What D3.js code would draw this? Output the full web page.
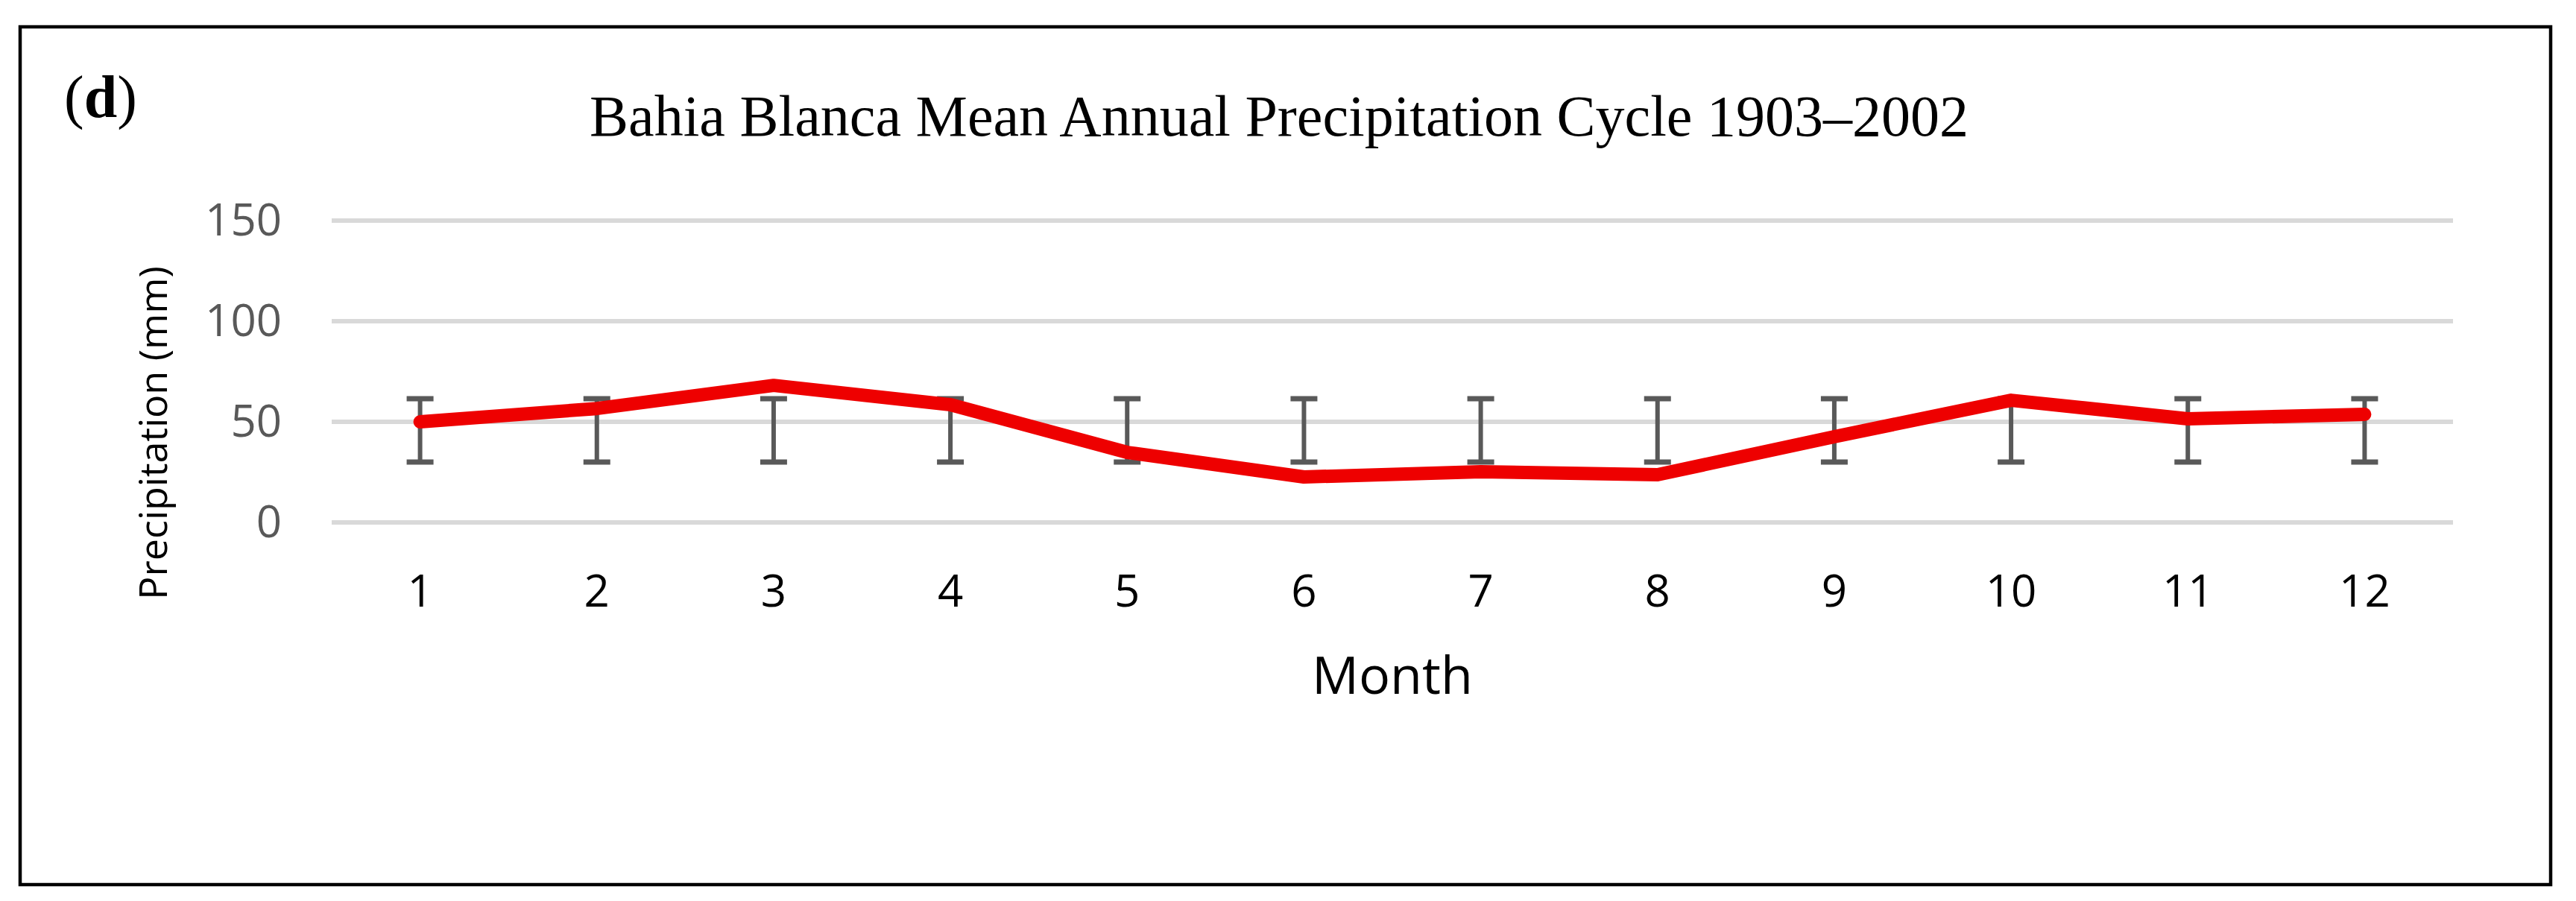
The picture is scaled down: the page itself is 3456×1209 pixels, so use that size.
<!DOCTYPE html>
<html>
<head>
<meta charset="utf-8">
<script src="https://cdn.jsdelivr.net/npm/d3@7"></script>
<style>
  html, body { margin: 0; padding: 0; background: #fff; }
  svg { display: block; }
</style>
</head>
<body>
<svg width="3456" height="1209"></svg>
<script>
// values
var months = [1, 2, 3, 4, 5, 6, 7, 8, 9, 10, 11, 12];
var precip = [50.0, 56.6, 68.1, 58.5, 34.8, 22.6, 25.2, 23.7, 42.6, 60.7, 51.5, 53.7];
var errLow = [30, 30, 30, 30, 30, 30, 30, 30, 30, 30, 30, 30];
var errHigh = [61.5, 61.5, 61.5, 61.5, 61.5, 61.5, 61.5, 61.5, 61.5, 61.5, 61.5, 61.5];
var yTicks = [0, 50, 100, 150];

var titleText = 'Bahia Blanca Mean Annual Precipitation Cycle 1903\u20132002';
var xTitle = 'Month';
var yTitle = 'Precipitation (mm)';

var svg = d3.select('svg');
var W = 3456, H = 1209;

// plot area
var plot = { left: 445, right: 3291, top: 296, bottom: 701 };

var x = d3.scaleBand().domain(months).range([plot.left, plot.right]);
var y = d3.scaleLinear().domain([0, 150]).range([plot.bottom, plot.top]);
var cx = function (m) { return x(m) + x.bandwidth() / 2; };

svg.append('rect').attr('width', W).attr('height', H).attr('fill', '#fff');

// outer frame
svg.append('rect')
  .attr('x', 27).attr('y', 36)
  .attr('width', 3422 - 27).attr('height', 1187 - 36)
  .attr('fill', 'none').attr('stroke', '#000').attr('stroke-width', 4.5);

// y tick labels
var yAxis = d3.axisLeft(y).tickValues(yTicks).tickSize(0).tickPadding(67);
var gy = svg.append('g').attr('transform', 'translate(' + plot.left + ',0)').call(yAxis);
gy.select('.domain').remove();
gy.selectAll('text')
  .attr('font-family', '"Open Sans", "Noto Sans", sans-serif')
  .attr('font-size', 60).attr('fill', '#595959');

// gridlines
svg.append('g').selectAll('line')
  .data(yTicks).enter().append('line')
  .attr('x1', plot.left).attr('x2', plot.right)
  .attr('y1', function (d) { return y(d); })
  .attr('y2', function (d) { return y(d); })
  .attr('stroke', '#d9d9d9').attr('stroke-width', 6);

// x tick labels
var xAxis = d3.axisBottom(x).tickSize(0).tickPadding(70);
var gx = svg.append('g').attr('transform', 'translate(0,' + plot.bottom + ')').call(xAxis);
gx.select('.domain').remove();
gx.selectAll('text')
  .attr('font-family', '"Open Sans", "Noto Sans", sans-serif')
  .attr('font-size', 60).attr('fill', '#000');

// error bars
var eb = svg.append('g').attr('stroke', '#595959');
eb.selectAll('line.v')
  .data(months).enter().append('line')
  .attr('class', 'v')
  .attr('x1', cx).attr('x2', cx)
  .attr('y1', function (d, i) { return y(errLow[i]); })
  .attr('y2', function (d, i) { return y(errHigh[i]); })
  .attr('stroke-width', 6);
[errLow, errHigh].forEach(function (arr) {
  eb.append('g').selectAll('line')
    .data(months).enter().append('line')
    .attr('x1', function (d) { return cx(d) - 18; })
    .attr('x2', function (d) { return cx(d) + 18; })
    .attr('y1', function (d, i) { return y(arr[i]); })
    .attr('y2', function (d, i) { return y(arr[i]); })
    .attr('stroke-width', 7);
});

// precipitation line
var line = d3.line()
  .x(function (d, i) { return cx(months[i]); })
  .y(function (d) { return y(d); });
svg.append('path')
  .datum(precip)
  .attr('d', line)
  .attr('fill', 'none')
  .attr('stroke', '#ee0000')
  .attr('stroke-width', 18)
  .attr('stroke-linecap', 'round')
  .attr('stroke-linejoin', 'round');

// titles
svg.append('text')
  .attr('x', 1716).attr('y', 182)
  .attr('text-anchor', 'middle')
  .attr('font-family', '"Liberation Serif", "Times New Roman", serif')
  .attr('font-size', 78)
  .text(titleText);

// panel label: parens regular, letter bold
var pl = svg.append('text')
  .attr('x', 86).attr('y', 157)
  .attr('font-family', '"Liberation Serif", "Times New Roman", serif')
  .attr('font-size', 80);
pl.append('tspan').text('(');
pl.append('tspan').attr('font-weight', 'bold').text('d');
pl.append('tspan').text(')');

svg.append('text')
  .attr('x', (plot.left + plot.right) / 2).attr('y', 931)
  .attr('text-anchor', 'middle')
  .attr('font-family', '"Open Sans", "Noto Sans", sans-serif')
  .attr('font-size', 70)
  .text(xTitle);

svg.append('text')
  .attr('transform', 'translate(224,581) rotate(-90)')
  .attr('text-anchor', 'middle')
  .attr('font-family', '"Open Sans", "Noto Sans", sans-serif')
  .attr('font-size', 52)
  .text(yTitle);
</script>
</body>
</html>
